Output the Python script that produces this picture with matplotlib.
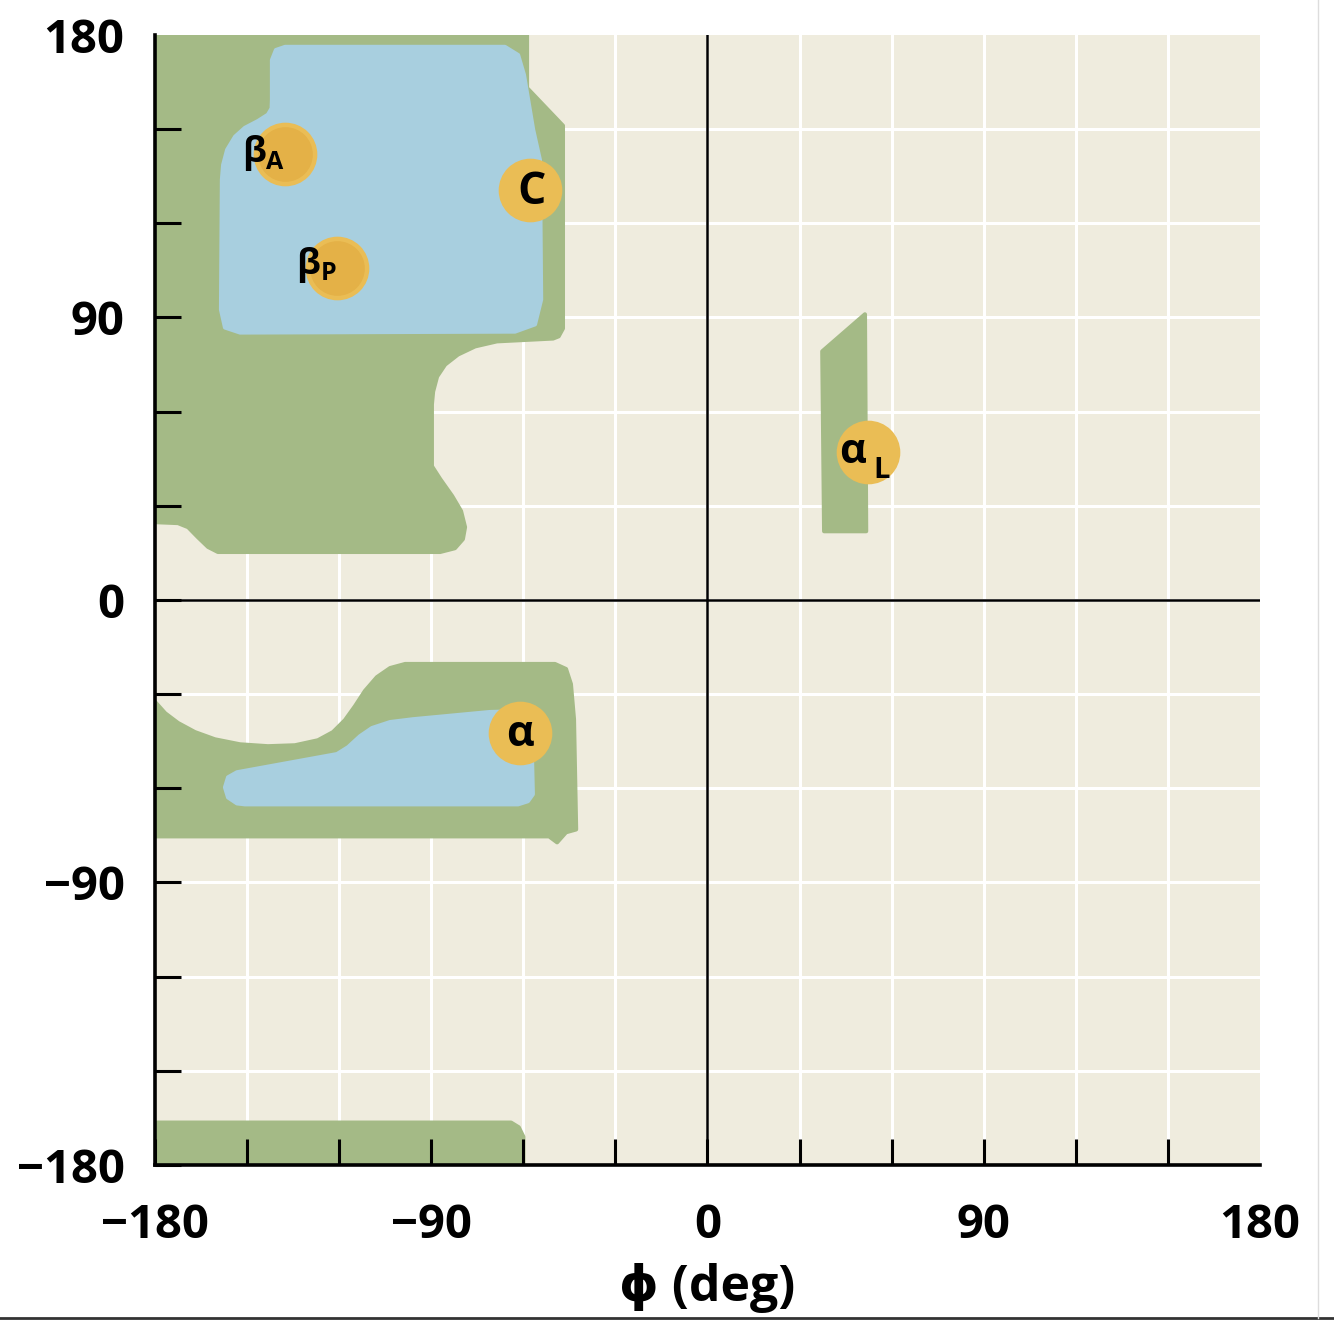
import numpy as np
import matplotlib.pyplot as plt
from matplotlib.patches import Polygon
from matplotlib.lines import Line2D

plt.rcParams['font.family'] = ['Open Sans', 'DejaVu Sans']
plt.rcParams['font.weight'] = 'bold'

# regiones permitidas (phi, psi) en grados
verde_sup_phi = [-180, -58.8, -58.8, -47.1, -47.1, -48.5, -50.3, -68.6, -75.7, -81.3, -85.5,
                 -88.1, -89.4, -89.8, -89.8, -87.1, -83.2, -80.3, -79.0, -79.7, -82.3, -87.1,
                 -159.5, -162.7, -166.0, -169.2, -172.5, -180]
verde_sup_psi = [180, 180, 163.1, 151.1, 86.5, 84.0, 83.3, 82.4, 80.8, 78.2, 75.0,
                 71.2, 66.4, 62.3, 42.6, 38.5, 33.1, 28.3, 23.2, 19.4, 16.5, 15.3,
                 15.3, 16.9, 20.0, 23.2, 24.5, 24.8]

azul_sup_phi = [-137.6, -66.0, -61.7, -59.8, -56.8, -54.6, -54.2, -56.2, -62.7, -152.3, -157.2,
                -158.5, -158.2, -157.8, -156.5, -153.9, -150.7, -146.4, -143.2, -142.0, -141.9,
                -141.9, -140.6]
azul_sup_psi = [176.2, 176.2, 173.6, 167.3, 149.8, 140.2, 95.7, 87.8, 85.5, 85.2, 86.8,
                92.5, 133.9, 138.6, 143.4, 147.6, 150.4, 152.6, 154.6, 156.6, 159.3,
                172.0, 175.2]

verde_med_phi = [-180, -176.7, -172.5, -167.0, -160.5, -152.3, -143.2, -134.4, -126.9, -122.0,
                 -118.1, -114.8, -111.6, -107.7, -103.4, -98.5, -49.7, -46.1, -44.5, -43.5,
                 -42.8, -46.1, -49.0, -51.6, -180]
verde_med_psi = [-32.5, -36.1, -39.2, -42.1, -44.4, -46.0, -46.6, -46.3, -44.7, -42.1,
                 -38.3, -33.8, -29.0, -24.6, -21.7, -20.4, -20.4, -22.0, -26.8, -38.0,
                 -73.1, -74.0, -77.2, -75.3, -75.3]

azul_med_phi = [-153.3, -120.7, -117.1, -113.2, -109.3, -103.4, -95.9, -70.9, -59.5, -57.5,
                -56.9, -58.5, -61.7, -150.7, -153.3, -156.2, -157.2, -156.2]
azul_med_psi = [-54.9, -49.1, -46.9, -43.4, -40.8, -38.9, -38.0, -35.7, -35.4, -37.3,
                -61.9, -64.1, -65.1, -65.1, -64.8, -62.9, -59.7, -56.5]

franja_phi = [-180, -64, -61.5, -60, -60, -180]
franja_psi = [-166.5, -166.5, -168, -171, -180, -180]

alfa_l_phi = [51.3, 37.4, 38.0, 51.7]
alfa_l_psi = [91.0, 79.2, 21.9, 21.9]

# conformaciones marcadas
centro_phi = [-137.6, -120.7, -57.8, -61.1, 52.2]
centro_psi = [142.1, 105.9, 130.7, -42.4, 47.1]

ticks = np.arange(-180, 181, 30)
etiquetas = ['−180', '', '', '−90', '', '', '0', '', '', '90', '', '', '180']

beige = '#EFECDE'
verde = '#A4BA86'
azul = '#A8CFDF'
amarillo = '#EABD55'

fig = plt.figure(figsize=(13.34, 13.34), dpi=100)
ax = fig.add_axes([0.1162, 0.1267, 0.8283, 0.8471])
ax.set_facecolor(beige)
ax.set_xlim(-180, 180)
ax.set_ylim(-180, 180)

for t in ticks[1:-1]:
    ax.axvline(t, color='white', lw=2.2, zorder=0.5)
    ax.axhline(t, color='white', lw=2.2, zorder=0.5)

for xs, ys, c in [(verde_sup_phi, verde_sup_psi, verde), (verde_med_phi, verde_med_psi, verde),
                  (franja_phi, franja_psi, verde), (alfa_l_phi, alfa_l_psi, verde),
                  (azul_sup_phi, azul_sup_psi, azul), (azul_med_phi, azul_med_psi, azul)]:
    ax.add_patch(Polygon(np.column_stack([xs, ys]), closed=True, facecolor=c, edgecolor=c,
                         lw=3, joinstyle='round', zorder=1))

ax.axvline(0, color='black', lw=1.8, zorder=2)
ax.axhline(0, color='black', lw=1.8, zorder=2)

ax.scatter(centro_phi, centro_psi, s=2100, color=amarillo, lw=0, zorder=3)
ax.scatter(centro_phi[:2], centro_psi[:2], s=1550, color='#E4B147', lw=0, zorder=3)

# etiquetas de los circulos
ax.annotate('β', (centro_phi[0], centro_psi[0]), xytext=(-14, 1), textcoords='offset points',
            ha='right', va='center', fontsize=26, zorder=4)
ax.annotate('A', (centro_phi[0], centro_psi[0]), xytext=(-14, -6), textcoords='offset points',
            ha='left', va='center', fontsize=18, zorder=4)
ax.annotate('β', (centro_phi[1], centro_psi[1]), xytext=(-12, 2), textcoords='offset points',
            ha='right', va='center', fontsize=26, zorder=4)
ax.annotate('P', (centro_phi[1], centro_psi[1]), xytext=(-12, -4), textcoords='offset points',
            ha='left', va='center', fontsize=18, zorder=4)
ax.annotate('C', (centro_phi[2], centro_psi[2]), xytext=(1, -2), textcoords='offset points',
            ha='center', va='center', fontsize=32, zorder=4)
ax.annotate('α', (centro_phi[3], centro_psi[3]), xytext=(0, -1), textcoords='offset points',
            ha='center', va='center', fontsize=31, zorder=4)
ax.annotate('α', (centro_phi[4], centro_psi[4]), xytext=(-1, 0), textcoords='offset points',
            ha='right', va='center', fontsize=30, zorder=4)
ax.annotate('L', (centro_phi[4], centro_psi[4]), xytext=(4, -13), textcoords='offset points',
            ha='left', va='center', fontsize=21, zorder=4)

ax.set_xticks(ticks)
ax.set_yticks(ticks)
ax.set_xticklabels(etiquetas, fontsize=34, fontweight='bold')
ax.set_yticklabels(etiquetas, fontsize=34, fontweight='bold')
ax.tick_params(direction='in', length=19, width=2.2, color='black')
ax.tick_params(axis='x', pad=27)
ax.tick_params(axis='y', pad=22)
ax.xaxis.get_major_ticks()[-1].tick1line.set_visible(False)
ax.yaxis.get_major_ticks()[-1].tick1line.set_visible(False)

for lado in ['top', 'right']:
    ax.spines[lado].set_visible(False)
for lado in ['left', 'bottom']:
    ax.spines[lado].set_linewidth(2.6)
    ax.spines[lado].set_zorder(5)

ax.set_xlabel('ϕ (deg)', fontsize=36, fontweight='bold', labelpad=10)

fig.add_artist(Line2D([0, 1], [0.012, 0.012], color='#333333', lw=2, transform=fig.transFigure))
fig.add_artist(Line2D([0.988, 0.988], [0.012, 1], color='#dddddd', lw=1, transform=fig.transFigure))

fig.savefig('out.png', dpi=100)
